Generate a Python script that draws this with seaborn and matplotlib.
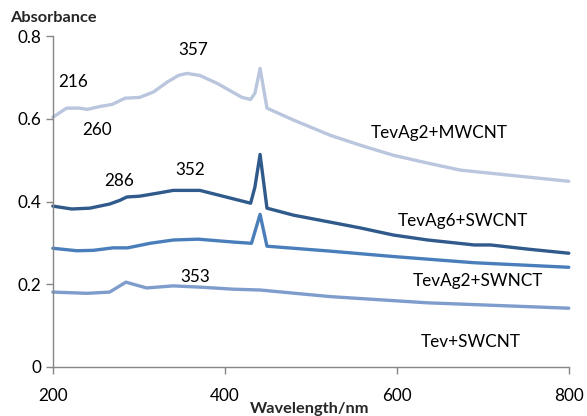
import matplotlib
matplotlib.use("Agg")
import matplotlib.pyplot as plt
import seaborn as sns
import pandas as pd

# ---- data ----
mw_x = [200, 216, 231, 240, 255, 269, 284, 301, 317, 333, 346, 356, 371, 391, 420, 430, 435, 441, 449, 480, 523, 558, 596, 636, 674, 744, 800]
mw_y = [0.604, 0.626, 0.626, 0.623, 0.630, 0.635, 0.650, 0.652, 0.665, 0.689, 0.705, 0.710, 0.705, 0.686, 0.652, 0.647, 0.662, 0.722, 0.626, 0.597, 0.560, 0.536, 0.512, 0.493, 0.476, 0.461, 0.449]

ag6_x = [200, 222, 243, 266, 278, 286, 301, 321, 340, 371, 430, 435, 441, 449, 480, 523, 558, 596, 636, 690, 709, 752, 800]
ag6_y = [0.389, 0.382, 0.384, 0.394, 0.403, 0.411, 0.413, 0.420, 0.427, 0.427, 0.396, 0.435, 0.514, 0.384, 0.367, 0.350, 0.336, 0.319, 0.307, 0.295, 0.295, 0.285, 0.275]

ag2_x = [200, 228, 247, 270, 287, 313, 340, 369, 410, 431, 441, 449, 523, 596, 690, 800]
ag2_y = [0.287, 0.281, 0.282, 0.288, 0.288, 0.299, 0.307, 0.309, 0.302, 0.299, 0.369, 0.292, 0.280, 0.267, 0.252, 0.241]

tev_x = [200, 240, 266, 285, 309, 340, 371, 410, 441, 523, 636, 800]
tev_y = [0.181, 0.178, 0.181, 0.205, 0.191, 0.196, 0.193, 0.188, 0.186, 0.170, 0.155, 0.142]

series_names = ["TevAg2+MWCNT", "TevAg6+SWCNT", "TevAg2+SWNCT", "Tev+SWCNT"]
series_x = [mw_x, ag6_x, ag2_x, tev_x]
series_y = [mw_y, ag6_y, ag2_y, tev_y]

peak_labels = ["357", "216", "260", "286", "352", "353"]
peak_x = [363, 224, 251, 277, 360, 365]
peak_y = [0.766, 0.688, 0.572, 0.449, 0.476, 0.217]

name_x = [649, 677, 694, 686]
name_y = [0.565, 0.353, 0.208, 0.060]

x_ticks = [200, 400, 600, 800]
y_ticks = [0, 0.2, 0.4, 0.6, 0.8]
y_tick_labels = ["0", "0.2", "0.4", "0.6", "0.8"]

# ---- build long-form table ----
rows = []
for name, xs, ys in zip(series_names, series_x, series_y):
    for a, b in zip(xs, ys):
        rows.append({"wavelength": a, "absorbance": b, "series": name})
df = pd.DataFrame(rows)

sns.set_theme(style="white")
plt.rcParams["font.family"] = ["Lato", "DejaVu Sans"]

colors = ["#BAC6DE", "#2F5A8B", "#4A7EBB", "#7E9DCC"]
palette = dict(zip(series_names, colors))

fig = plt.figure(figsize=(5.87, 4.16), dpi=100)
ax = fig.add_axes([0.090, 0.118, 0.879, 0.795])

sns.lineplot(data=df, x="wavelength", y="absorbance", hue="series",
             palette=palette, hue_order=series_names, ax=ax,
             linewidth=2.4, legend=False, estimator=None, sort=False)
for ln in ax.get_lines():
    ln.set_solid_capstyle("round")
    ln.set_solid_joinstyle("round")
    ln.set_clip_on(False)

ax.set_xlim(200, 800)
ax.set_ylim(0, 0.8)
ax.set_xticks(x_ticks)
ax.set_yticks(y_ticks)
ax.set_yticklabels(y_tick_labels)
ax.set_xlabel("")
ax.set_ylabel("")

for s in ["top", "right"]:
    ax.spines[s].set_visible(False)
for s in ["left", "bottom"]:
    ax.spines[s].set_color("#868686")
    ax.spines[s].set_linewidth(1.0)
ax.tick_params(axis="both", direction="out", length=5, width=1, color="#868686",
               labelsize=12.3, labelcolor="black", bottom=True, left=True)
ax.tick_params(axis="x", pad=10)
ax.tick_params(axis="y", pad=3)

for t, a, b in zip(peak_labels, peak_x, peak_y):
    ax.text(a, b, t, ha="center", va="center", fontsize=12.3, color="black")
for t, a, b in zip(series_names, name_x, name_y):
    ax.text(a, b, t, ha="center", va="center", fontsize=12.3, color="black")

fig.text(10 / 587, 1 - 18 / 416, "Absorbance", ha="left", va="center",
         fontsize=11.8, fontweight="bold")
fig.text(310 / 587, 1 - 409 / 416, "Wavelength/nm", ha="center", va="center",
         fontsize=11.8, fontweight="bold")

fig.savefig("out.png", dpi=100)
